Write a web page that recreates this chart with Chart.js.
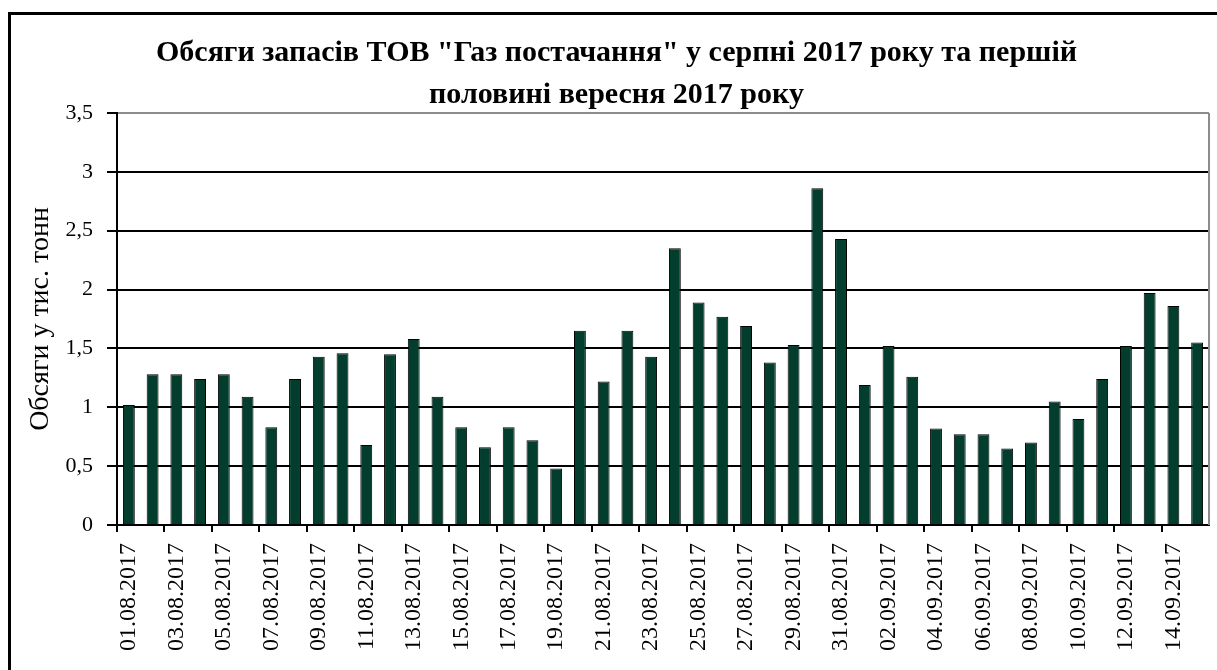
<!DOCTYPE html>
<html>
<head>
<meta charset="utf-8">
<script src="https://cdn.jsdelivr.net/npm/chart.js@4/dist/chart.umd.min.js"></script>
<style>
html,body{margin:0;padding:0;background:#fff;overflow:hidden;}
#wrap{position:relative;width:1217px;height:670px;}
</style>
</head>
<body>
<div id="wrap"><canvas id="c" width="1217" height="670"></canvas></div>
<script>
const titleLines = ['Обсяги запасів ТОВ "Газ постачання" у серпні 2017 року та першій', 'половині вересня 2017 року'];
const yAxisTitle = 'Обсяги у тис. тонн';
const categories = [
  '01.08.2017','02.08.2017','03.08.2017','04.08.2017','05.08.2017','06.08.2017','07.08.2017','08.08.2017',
  '09.08.2017','10.08.2017','11.08.2017','12.08.2017','13.08.2017','14.08.2017','15.08.2017','16.08.2017',
  '17.08.2017','18.08.2017','19.08.2017','20.08.2017','21.08.2017','22.08.2017','23.08.2017','24.08.2017',
  '25.08.2017','26.08.2017','27.08.2017','28.08.2017','29.08.2017','30.08.2017','31.08.2017',
  '01.09.2017','02.09.2017','03.09.2017','04.09.2017','05.09.2017','06.09.2017','07.09.2017','08.09.2017',
  '09.09.2017','10.09.2017','11.09.2017','12.09.2017','13.09.2017','14.09.2017','15.09.2017'
];
const volumes = [
  1.02,1.28,1.28,1.24,1.28,1.09,0.83,1.24,1.43,1.46,0.68,1.45,1.58,1.09,0.83,0.66,
  0.83,0.72,0.48,1.65,1.22,1.65,1.43,2.35,1.89,1.77,1.69,1.38,1.53,2.86,2.43,
  1.19,1.52,1.26,0.82,0.77,0.77,0.65,0.70,1.05,0.90,1.24,1.52,1.97,1.86,1.55
];
const yMin = 0, yMax = 3.5, yStep = 0.5;

const SERIF = "'Liberation Serif', 'Times New Roman', serif";

const framePlugin = {
  id: 'frame',
  beforeDraw(chart) {
    const ctx = chart.ctx;
    ctx.save();
    ctx.fillStyle = '#fff';
    ctx.fillRect(0, 0, chart.width, chart.height);
    ctx.fillStyle = '#000';
    ctx.fillRect(8, 12, chart.width, 3);
    ctx.fillRect(8, 12, 3, chart.height);
    ctx.restore();
  },
  afterDraw(chart) {
    const {ctx, chartArea} = chart;
    ctx.save();
    ctx.strokeStyle = '#8c8c8c';
    ctx.lineWidth = 2;
    ctx.beginPath();
    ctx.moveTo(chartArea.right, chartArea.top);
    ctx.lineTo(chartArea.right, chartArea.bottom);
    ctx.stroke();
    ctx.restore();
  }
};

new Chart(document.getElementById('c'), {
  type: 'bar',
  data: {
    labels: categories,
    datasets: [{
      data: volumes,
      backgroundColor: '#033d2e',
      borderColor: '#000',
      borderWidth: 1,
      categoryPercentage: 1,
      barPercentage: 0.5
    }]
  },
  options: {
    responsive: false,
    animation: false,
    events: [],
    layout: { padding: { left: 24, right: 8, top: 0, bottom: 0 } },
    plugins: {
      legend: { display: false },
      tooltip: { enabled: false },
      title: {
        display: true,
        text: titleLines,
        color: '#000',
        font: { family: SERIF, size: 30, weight: 'bold', lineHeight: 1.4 },
        padding: { top: 32, bottom: -3 }
      }
    },
    scales: {
      x: {
        offset: true,
        grid: {
          offset: true,
          drawOnChartArea: false,
          drawTicks: true,
          tickLength: 7,
          lineWidth: 2,
          tickColor: (c) => (c.index % 2 === 0 ? '#000' : 'rgba(0,0,0,0)'),
          color: (c) => (c.index % 2 === 0 ? '#000' : 'rgba(0,0,0,0)')
        },
        border: { display: true, color: '#000', width: 2 },
        ticks: {
          autoSkip: false,
          maxRotation: 90,
          minRotation: 90,
          padding: 11,
          color: '#000',
          font: { family: SERIF, size: 24 },
          callback: function(v, i) { return i % 2 === 0 ? categories[i] : ''; }
        },
        afterFit: (s) => { s.height = 145; s.paddingLeft = 0; s.paddingRight = 0; }
      },
      y: {
        min: yMin,
        max: yMax,
        ticks: {
          stepSize: yStep,
          padding: 14,
          color: '#000',
          font: { family: SERIF, size: 22 },
          callback: (v) => String(v).replace('.', ',')
        },
        grid: {
          color: (c) => (c.tick && c.tick.value === yMax ? '#8c8c8c' : '#000'),
          tickColor: '#000',
          lineWidth: 2,
          tickLength: 10
        },
        border: { display: true, color: '#000', width: 2 },
        title: {
          display: true,
          text: yAxisTitle,
          color: '#000',
          font: { family: SERIF, size: 28 },
          padding: { top: 0, bottom: 0 }
        },
        afterFit: (s) => { s.width = 93; }
      }
    }
  },
  plugins: [framePlugin]
});
</script>
</body>
</html>
